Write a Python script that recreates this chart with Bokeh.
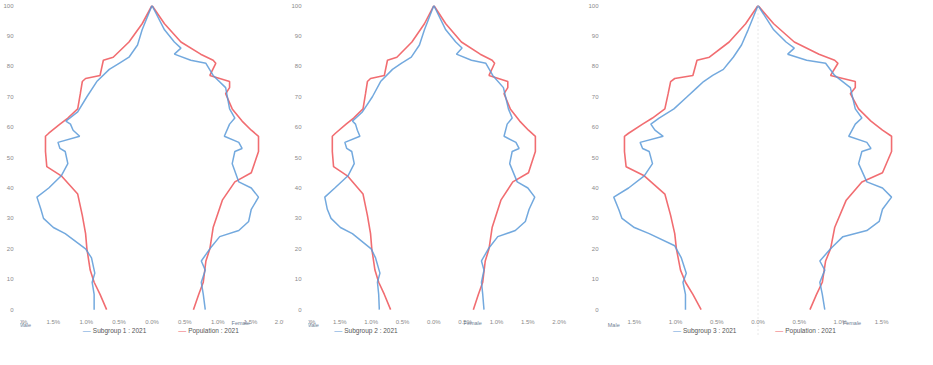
from bokeh.plotting import figure
from bokeh.layouts import gridplot
from bokeh.models import FixedTicker, Label, Span
from bokeh.embed import file_html
from bokeh.resources import INLINE

# ---------------- data (share of population, % per single year of age) ----------------
# total population (red) - shared by the three panels
red_male_age = [0, 5, 9, 13, 20, 25, 31, 38, 44, 47, 52, 57, 58, 61, 63, 66, 71, 75, 76, 77, 82, 83, 88, 94, 100]
red_male = [0.69, 0.79, 0.88, 0.94, 0.99, 1.01, 1.06, 1.13, 1.38, 1.60, 1.62, 1.62, 1.57, 1.40, 1.28, 1.13,
            1.09, 1.06, 1.01, 0.79, 0.74, 0.59, 0.35, 0.15, 0.0]
red_female_age = [0, 5, 9, 16, 20, 27, 36, 42, 45, 52, 57, 59, 62, 66, 71, 73, 75, 77, 81, 82, 84, 88, 94, 100]
red_female = [0.63, 0.71, 0.78, 0.82, 0.88, 0.93, 1.07, 1.26, 1.51, 1.62, 1.62, 1.51, 1.37, 1.22, 1.12, 1.18,
              1.18, 0.88, 0.97, 0.93, 0.74, 0.44, 0.19, 0.0]

# panel 1 subgroup (blue)
g1_male_age = [0, 5, 9, 12, 17, 20, 25, 27, 30, 33, 37, 40, 44, 48, 52, 53, 55, 57, 59, 61, 62, 65, 70, 75, 79,
               81, 83, 87, 92, 100]
g1_male = [0.88, 0.88, 0.91, 0.87, 0.92, 1.01, 1.32, 1.50, 1.65, 1.69, 1.75, 1.57, 1.38, 1.28, 1.32, 1.40, 1.43,
           1.10, 1.20, 1.24, 1.31, 1.13, 0.99, 0.84, 0.65, 0.50, 0.35, 0.22, 0.15, 0.0]
g1_female_age = [0, 5, 9, 13, 16, 20, 24, 26, 29, 33, 37, 40, 42, 48, 52, 53, 55, 57, 61, 63, 66, 73, 77, 81, 82,
                 84, 86, 88, 92, 100]
g1_female = [0.81, 0.78, 0.75, 0.81, 0.75, 0.88, 1.03, 1.32, 1.47, 1.51, 1.62, 1.51, 1.32, 1.22, 1.26, 1.37, 1.32,
             1.10, 1.18, 1.26, 1.18, 1.12, 0.93, 0.82, 0.59, 0.34, 0.44, 0.34, 0.19, 0.0]

# panel 2 subgroup (blue)
g2_male_age = [0, 5, 9, 12, 17, 20, 25, 27, 30, 33, 37, 40, 44, 48, 52, 53, 55, 57, 59, 61, 62, 65, 70, 75, 79,
               81, 83, 87, 92, 100]
g2_male = [0.87, 0.88, 0.90, 0.86, 0.93, 1.00, 1.30, 1.49, 1.64, 1.70, 1.74, 1.58, 1.37, 1.27, 1.31, 1.39, 1.42,
           1.18, 1.22, 1.25, 1.30, 1.14, 0.98, 0.85, 0.66, 0.52, 0.36, 0.23, 0.15, 0.0]
g2_female_age = [0, 5, 9, 13, 16, 20, 24, 26, 29, 33, 37, 40, 42, 48, 52, 53, 55, 57, 61, 63, 66, 73, 77, 81, 82,
                 84, 86, 88, 92, 100]
g2_female = [0.80, 0.78, 0.76, 0.80, 0.76, 0.87, 1.02, 1.30, 1.46, 1.52, 1.61, 1.50, 1.33, 1.21, 1.25, 1.36, 1.31,
             1.12, 1.17, 1.25, 1.19, 1.11, 0.94, 0.83, 0.60, 0.36, 0.45, 0.35, 0.19, 0.0]

# panel 3 subgroup (blue)
g3_male_age = [0, 5, 9, 12, 17, 21, 25, 27, 30, 33, 37, 40, 44, 48, 52, 53, 55, 57, 59, 61, 63, 66, 70, 73, 75,
               77, 79, 81, 83, 87, 92, 100]
g3_male = [0.88, 0.88, 0.91, 0.87, 0.93, 1.01, 1.32, 1.50, 1.65, 1.69, 1.75, 1.57, 1.38, 1.28, 1.32, 1.40, 1.43,
           1.15, 1.25, 1.30, 1.20, 1.02, 0.86, 0.74, 0.66, 0.55, 0.42, 0.36, 0.30, 0.20, 0.12, 0.0]
g3_female_age = [0, 5, 9, 13, 16, 20, 24, 26, 29, 33, 37, 40, 42, 48, 52, 53, 55, 57, 61, 63, 66, 73, 77, 81, 82,
                 84, 86, 88, 92, 100]
g3_female = [0.81, 0.78, 0.75, 0.81, 0.75, 0.88, 1.03, 1.32, 1.47, 1.51, 1.62, 1.51, 1.32, 1.22, 1.26, 1.37, 1.32,
             1.10, 1.18, 1.26, 1.18, 1.12, 0.93, 0.82, 0.59, 0.36, 0.44, 0.34, 0.19, 0.0]

age_ticks = list(range(0, 101, 10))
pct_ticks_wide = [-2.0, -1.5, -1.0, -0.5, 0.0, 0.5, 1.0, 1.5, 2.0]
pct_ticks_narrow = [-1.5, -1.0, -0.5, 0.0, 0.5, 1.0, 1.5]

legend_p1 = ["Subgroup 1 : 2021", "Population : 2021"]
legend_p2 = ["Subgroup 2 : 2021"]
legend_p3 = ["Subgroup 3 : 2021", "Population : 2021"]

BLUE = "#5a9ad8"
RED = "#ef5d62"
GRAY = "#8a8a8a"
TXT = "#6f7f95"


def panel(width, bl, xr, ticks, gm_age, gm, gf_age, gf, labels, leg_x, male_x, female_x, center_line=False):
    p = figure(width=width, height=340, x_range=xr, y_range=(-8.5, 100),
               output_backend="svg", toolbar_location=None,
               min_border_left=bl, min_border_bottom=5)
    p.outline_line_color = None
    p.grid.visible = False
    for ax in (p.xaxis[0], p.yaxis[0]):
        ax.axis_line_color = None
        ax.major_tick_line_color = None
        ax.minor_tick_line_color = None
        ax.major_label_text_font_size = "6px"
        ax.major_label_text_color = GRAY
    p.yaxis.ticker = FixedTicker(ticks=age_ticks)
    p.yaxis.major_label_standoff = 1
    p.xaxis.ticker = FixedTicker(ticks=ticks)
    p.xaxis.major_label_standoff = 3
    p.xaxis.major_label_overrides = {t: "%.1f%%" % abs(t) for t in ticks}
    p.xaxis.fixed_location = 0

    if center_line:
        p.add_layout(Span(location=0, dimension="height", line_color="#d0d0d0",
                          line_dash="1 3", line_width=1))

    p.line([-v for v in red_male], red_male_age, line_color=RED, line_width=1.6, line_alpha=0.9)
    p.line(red_female, red_female_age, line_color=RED, line_width=1.6, line_alpha=0.9)
    p.line([-v for v in gm], gm_age, line_color=BLUE, line_width=1.5, line_alpha=0.85)
    p.line(gf, gf_age, line_color=BLUE, line_width=1.5, line_alpha=0.85)

    # legend entries (coloured dash + text) below the axis labels
    colors = [BLUE, RED]
    for i, lab in enumerate(labels):
        x0 = leg_x[i]
        p.add_layout(Label(x=x0, y=-7.0, text="\u2014", text_font_size="8px", text_color=colors[i],
                           text_align="right", text_baseline="middle", x_offset=-2))
        p.add_layout(Label(x=x0, y=-7.0, text=lab, text_font_size="6.5px", text_color="#555555",
                           text_align="left", text_baseline="middle"))

    p.add_layout(Label(x=male_x, y=-4.9, text="Male", text_font_size="5.5px", text_color=TXT,
                       text_align="center", text_baseline="middle"))
    p.add_layout(Label(x=female_x, y=-4.5, text="Female", text_font_size="5.5px", text_color=TXT,
                       text_align="center", text_baseline="middle"))
    return p


p1 = panel(288, 14, (-2.0, 2.0), pct_ticks_wide, g1_male_age, g1_male, g1_female_age, g1_female,
           legend_p1, [-0.9, 0.55], -1.93, 1.35)
p2 = panel(297, 12, (-2.0, 2.34), pct_ticks_wide, g2_male_age, g2_male, g2_female_age, g2_female,
           legend_p2, [-1.43], -1.93, 0.62)
p3 = panel(332, 13, (-1.85, 1.874), pct_ticks_narrow, g3_male_age, g3_male, g3_female_age, g3_female,
           legend_p3, [-0.91, 0.33], -1.75, 1.14, center_line=True)

layout = gridplot([[p1, p2, p3]], toolbar_location=None)
open("out.html", "w").write(file_html(layout, INLINE))
